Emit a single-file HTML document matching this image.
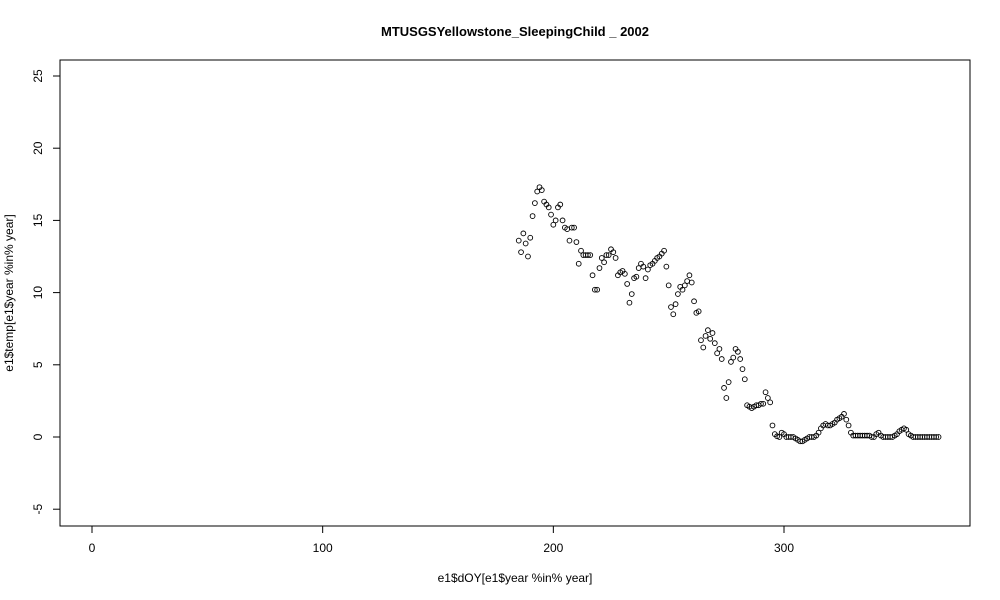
<!DOCTYPE html>
<html><head><meta charset="utf-8"><style>body{margin:0;background:#fff}svg{display:block;font-family:"Liberation Sans",Arial,sans-serif}</style></head>
<body>
<svg id="chart" width="1000" height="600">
<text x="515" y="36" text-anchor="middle" font-size="13" font-weight="bold">MTUSGSYellowstone_SleepingChild _ 2002</text>
<rect x="60" y="60" width="910" height="466" fill="none" stroke="#000"/>
<g id="xaxis"></g>
<g id="yaxis"></g>
<text x="515" y="582" text-anchor="middle" font-size="12">e1$dOY[e1$year %in% year]</text>
<text transform="translate(13,293) rotate(-90)" text-anchor="middle" font-size="12">e1$temp[e1$year %in% year]</text>
<g id="pts"></g>
</svg>
<script>
const xTicks=[0,100,200,300];
const yTicks=[-5,0,5,10,15,20,25];
const temps=[13.6,12.8,14.1,13.4,12.5,13.8,15.3,16.2,17.0,17.3,17.1,16.3,16.1,15.9,15.4,14.7,15.0,15.9,16.1,15.0,14.5,14.4,13.6,14.5,14.5,13.5,12.0,12.9,12.6,12.6,12.6,12.6,11.2,10.2,10.2,11.7,12.4,12.1,12.6,12.6,13.0,12.8,12.4,11.2,11.4,11.5,11.3,10.6,9.3,9.9,11.0,11.1,11.7,12.0,11.8,11.0,11.6,11.9,12.0,12.2,12.4,12.5,12.7,12.9,11.8,10.5,9.0,8.5,9.2,9.9,10.4,10.2,10.5,10.8,11.2,10.7,9.4,8.6,8.7,6.7,6.2,7.0,7.4,6.8,7.2,6.5,5.8,6.1,5.4,3.4,2.7,3.8,5.2,5.5,6.1,5.9,5.4,4.7,4.0,2.2,2.1,2.0,2.1,2.2,2.2,2.3,2.3,3.1,2.7,2.4,0.8,0.2,0.05,0.0,0.3,0.2,0.0,0.0,0.0,0.0,-0.1,-0.2,-0.3,-0.3,-0.2,-0.1,0.0,0.0,0.0,0.1,0.3,0.6,0.8,0.9,0.8,0.8,0.9,1.0,1.2,1.3,1.4,1.6,1.2,0.8,0.3,0.1,0.1,0.1,0.1,0.1,0.1,0.1,0.1,0.0,0.0,0.2,0.3,0.1,0.0,0.0,0.0,0.0,0.0,0.1,0.2,0.4,0.5,0.6,0.5,0.2,0.1,0.0,0.0,0.0,0.0,0.0,0.0,0.0,0.0,0.0,0.0,0.0,0.0];
const days=temps.map((_,i)=>185+i);
const NS='http://www.w3.org/2000/svg';
const X=v=>92+v*2.3067;
const Y=v=>437-v*14.44;
function mk(t,a,p){const e=document.createElementNS(NS,t);for(const k in a)e.setAttribute(k,a[k]);p.appendChild(e);return e;}
const xa=document.getElementById('xaxis');
mk('line',{x1:X(0),x2:X(300),y1:526,y2:526,stroke:'#000'},xa);
xTicks.forEach(t=>{const l=mk('line',{x1:X(t),x2:X(t),y1:526,y2:533,stroke:'#000'},xa);


const s=mk('text',{x:X(t),y:552,'text-anchor':'middle','font-size':12},xa);s.textContent=t;

});
const ya=document.getElementById('yaxis');
mk('line',{x1:60,x2:60,y1:Y(-5),y2:Y(25),stroke:'#000'},ya);
yTicks.forEach(t=>{const l=mk('line',{x1:53,x2:60,y1:Y(t),y2:Y(t),stroke:'#000'},ya);


const s=mk('text',{transform:`translate(42,${Y(t)}) rotate(-90)`,'text-anchor':'middle','font-size':12},ya);s.textContent=t;

});
const g=document.getElementById('pts');
temps.forEach((v,i)=>{const c=mk('circle',{cx:X(days[i]),cy:Y(v),r:2.4,fill:'none',stroke:'#000','stroke-width':0.9},g);

});
</script>
</body></html>
